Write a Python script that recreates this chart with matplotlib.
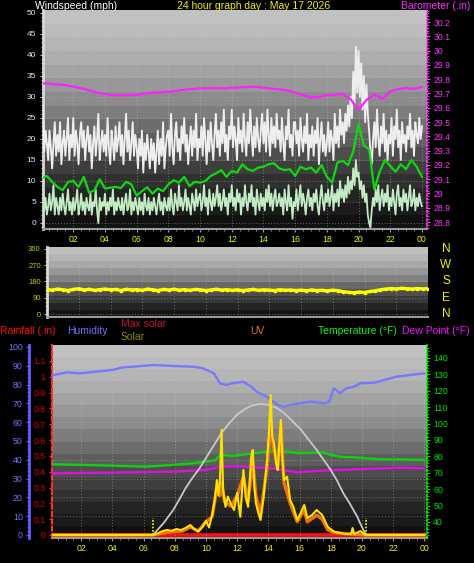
import numpy as np
import matplotlib
matplotlib.use('Agg')
import matplotlib.pyplot as plt
from matplotlib.ticker import MultipleLocator, FixedLocator, FuncFormatter

plt.rcParams['font.family'] = ['Liberation Sans', 'DejaVu Sans']

# ---------------- data ----------------
hour_ticks = [2, 4, 6, 8, 10, 12, 14, 16, 18, 20, 22, 24]
hour_labels = ['02', '04', '06', '08', '10', '12', '14', '16', '18', '20', '22', '00']

# wind gust (mph), 5-minute samples (one row per hour)
gust = [
    20, 28, 17, 22, 19, 15, 22, 18, 13, 19, 24, 16,
    21, 17, 24, 14, 19, 22, 16, 20, 25, 15, 21, 18,
    25, 16, 22, 19, 14, 21, 24, 18, 22, 15, 20, 23,
    17, 21, 13, 19, 23, 16, 20, 26, 15, 19, 22, 17,
    21, 16, 25, 18, 14, 22, 19, 15, 23, 17, 20, 24,
    16, 21, 14, 20, 26, 17, 22, 15, 19, 24, 16, 21,
    18, 13, 20, 16, 22, 12, 19, 15, 21, 17, 13, 20,
    15, 19, 12, 17, 22, 14, 20, 16, 24, 13, 18, 21,
    22, 16, 26, 18, 14, 21, 24, 17, 20, 15, 23, 19,
    25, 17, 21, 14, 19, 23, 16, 22, 18, 26, 15, 20,
    18, 23, 16, 25, 20, 14, 22, 17, 24, 19, 15, 21,
    26, 18, 22, 16, 24, 19, 27, 17, 21, 15, 23, 20,
    27, 18, 23, 20, 15, 25, 19, 22, 17, 26, 20, 16,
    24, 19, 27, 21, 16, 23, 18, 25, 20, 17, 22, 26,
    19, 24, 17, 27, 21, 16, 25, 19, 23, 18, 26, 20,
    22, 17, 25, 19, 15, 23, 20, 27, 18, 21, 16, 24,
    24, 19, 22, 16, 25, 20, 17, 23, 19, 26, 15, 21,
    18, 23, 16, 22, 19, 25, 14, 20, 24, 17, 21, 16,
    19, 24, 17, 22, 20, 15, 26, 19, 23, 18, 27, 21,
    24, 19, 26, 22, 28, 23, 30, 25, 36, 28, 42, 31,
    41, 30, 38, 27, 35, 24, 33, 26, 22, 17, 14, 20,
    24, 18, 27, 20, 16, 23, 19, 26, 17, 22, 15, 21,
    19, 25, 16, 23, 20, 27, 18, 22, 15, 24, 19, 21,
    17, 23, 20, 26, 18, 22, 16, 24, 21, 19, 25, 20, 23]

# wind speed (mph), 5-minute samples (one row per hour)
speed = [
    5, 8, 3, 6, 2, 4, 7, 3, 5, 9, 2, 6,
    4, 2, 6, 3, 7, 4, 2, 5, 8, 3, 5, 2,
    6, 3, 5, 8, 2, 4, 7, 3, 5, 2, 6, 4,
    3, 7, 2, 5, 4, 8, 3, 0, 6, 3, 5, 4,
    7, 2, 5, 3, 6, 4, 8, 2, 5, 3, 6, 4,
    3, 6, 2, 5, 7, 3, 4, 8, 2, 5, 3, 6,
    4, 2, 6, 3, 5, 2, 7, 4, 3, 6, 2, 5,
    3, 6, 4, 2, 5, 7, 3, 5, 2, 6, 4, 3,
    6, 3, 8, 4, 2, 7, 5, 3, 9, 4, 6, 3,
    5, 8, 3, 6, 4, 2, 7, 5, 3, 8, 4, 6,
    7, 3, 5, 9, 4, 6, 2, 8, 5, 3, 7, 4,
    6, 9, 4, 7, 3, 5, 8, 4, 6, 2, 7, 5,
    9, 4, 6, 3, 8, 5, 7, 2, 6, 4, 9, 5,
    3, 7, 5, 9, 4, 6, 2, 8, 5, 3, 7, 4,
    6, 3, 8, 5, 9, 4, 7, 3, 6, 8, 4, 5,
    7, 4, 6, 2, 8, 5, 3, 9, 4, 6, 1, 5,
    4, 8, 3, 6, 9, 4, 7, 5, 2, 6, 8, 4,
    6, 3, 7, 5, 8, 4, 2, 6, 9, 5, 3, 7,
    5, 8, 4, 6, 9, 3, 7, 5, 8, 4, 10, 6,
    8, 5, 9, 6, 11, 7, 10, 8, 13, 9, 15, 11,
    12, 8, 10, 6, 9, 5, 7, 2, 0, -1, 3, 6,
    4, 8, 5, 9, 3, 6, 8, 4, 7, 5, 9, 3,
    6, 4, 8, 5, 2, 7, 9, 4, 6, 3, 8, 5,
    7, 3, 6, 9, 4, 5, 8, 3, 6, 4, 7, 5, 4]

# average wind (mph), 20-minute samples
avg_wind = [
    10.6, 11.2, 9.8, 8.6, 7.8, 9.8, 10.0, 8.6, 11.0, 7.2, 7.8, 10.4,
    8.2, 8.4, 8.6, 8.3, 9.8, 9.2, 6.5, 7.6, 8.5, 7.0, 8.2, 7.6,
    9.2, 10.2, 9.6, 11.0, 8.8, 9.8, 9.6, 10.0, 11.2, 11.8, 12.6, 11.0,
    12.4, 12.0, 14.0, 12.8, 12.4, 13.2, 13.4, 14.0, 14.2, 13.0, 12.6, 12.8,
    11.2, 13.4, 12.8, 13.2, 12.0, 13.8, 11.0, 9.6, 14.4, 14.8, 13.8, 17.0,
    23.5, 18.5, 17.5, 8.0, 12.2, 15.0, 13.6, 12.2, 14.0, 12.8, 15.0, 13.4, 11.0]

# barometer (inHg), 30-minute samples
baro = [
    29.771, 29.768, 29.762, 29.758, 29.748, 29.736, 29.722, 29.706, 29.695, 29.689,
    29.688, 29.689, 29.690, 29.698, 29.705, 29.708, 29.712, 29.718, 29.726, 29.730,
    29.735, 29.736, 29.737, 29.735, 29.740, 29.742, 29.745, 29.747, 29.740, 29.734,
    29.728, 29.722, 29.705, 29.688, 29.670, 29.675, 29.688, 29.690, 29.695, 29.660,
    29.585, 29.655, 29.692, 29.662, 29.715, 29.730, 29.738, 29.732, 29.745]

# wind direction (deg), 20-minute samples
wdir = [
    135, 132, 138, 134, 130, 136, 140, 133, 137, 131, 135, 138,
    134, 136, 130, 137, 133, 135, 131, 138, 134, 130, 136, 133,
    137, 132, 135, 131, 136, 134, 130, 133, 137, 132, 135, 131,
    134, 130, 133, 136, 131, 134, 132, 130, 135, 131, 133, 130,
    132, 129, 133, 130, 131, 128, 132, 129, 124, 120, 118, 122,
    119, 125, 128, 134, 138, 141, 139, 142, 140, 138, 141, 139, 140]

# humidity (%)
hum_t = [0.2, 1.1, 1.9, 3.0, 4.0, 4.7, 5.3, 6.6, 7.9, 9.2, 9.8, 10.5, 10.9, 11.3, 11.7,
         12.4, 12.9, 13.3, 13.9, 14.6, 15.0, 15.6, 16.7, 17.6, 17.9, 18.2, 18.6, 19.0,
         19.5, 19.9, 20.8, 21.4, 22.2, 23.1, 24.0]
hum_v = [85, 86.5, 86, 86.9, 87.8, 89.2, 89.5, 90.4, 89.9, 89.5, 88.7, 86, 80.7, 79.8, 80.7,
         81.5, 78.9, 75.9, 73.6, 69.1, 68.3, 69.5, 70.9, 70, 70.9, 78, 75.4, 78,
         78.9, 80.7, 81, 82.4, 84.2, 85.1, 86]

# temperature (F)
temp_t = [0.2, 2.0, 4.06, 6.2, 7.9, 9.2, 10.0, 10.6, 10.9, 11.75, 13.1, 14.36, 15.2,
          16.07, 17.4, 18.0, 18.6, 19.5, 21.2, 22.5, 24.0]
temp_v = [75.2, 74.8, 74.3, 73.7, 74.8, 75.8, 76.8, 77.6, 80.9, 80.3, 81.9, 83.5, 82.9,
          81.9, 82.5, 80.9, 79.8, 79.4, 78.2, 78.2, 77.8]

# dew point (F)
dew_t = [0.2, 4.06, 7.9, 10.0, 10.9, 12.0, 13.1, 14.36, 15.85, 17.4, 19.5, 22.5, 24.0]
dew_v = [69.7, 70.1, 70.7, 71.7, 73.7, 73.9, 73.3, 72.7, 70.3, 71.3, 72.1, 73.1, 72.7]

# max solar (W/m2)
maxsol_t = [6.6, 7.3, 7.9, 8.3, 8.7, 9.1, 9.6, 10.0, 10.4, 11.0, 11.5, 12.0, 12.5, 13.0,
            13.5, 14.0, 14.5, 15.0, 15.5, 16.1, 16.6, 17.1, 17.5, 18.0, 18.4, 18.8, 19.2,
            19.7, 19.9, 20.25]
maxsol_v = [0, 65, 133, 190, 250, 300, 356, 410, 463, 543, 595, 640, 670, 690,
            697, 692, 678, 649, 610, 559, 505, 452, 405, 346, 290, 223, 170,
            97, 60, 0]

# solar (W/m2)
sol_t = [0.0, 6.6, 6.9, 7.2, 7.5, 7.8, 8.1, 8.4, 8.7, 9.0, 9.2, 9.5, 9.8, 10.0, 10.2,
         10.4, 10.55, 10.7, 10.8, 10.9, 11.0, 11.1, 11.25, 11.4, 11.6, 11.8, 12.0, 12.2,
         12.4, 12.55, 12.7, 12.9, 13.0, 13.1, 13.2, 13.35, 13.5, 13.7, 13.9, 14.05, 14.15,
         14.25, 14.36, 14.5, 14.6, 14.8, 14.9, 15.0, 15.2, 15.4, 15.6, 15.85, 16.07, 16.3,
         16.5, 16.8, 17.1, 17.45, 17.8, 18.2, 18.85, 19.3, 19.4, 19.5, 19.9, 20.2, 24.0]
sol_v = [0, 0, 8, 20, 27, 22, 32, 26, 38, 53, 35, 18, 45, 76, 40,
         110, 180, 292, 210, 300, 560, 240, 150, 204, 165, 133, 223, 97,
         346, 200, 150, 417, 452, 260, 170, 120, 80, 204, 383, 560, 745,
         520, 489, 380, 346, 612, 400, 292, 310, 186, 150, 80, 117, 160,
         90, 106, 133, 106, 44, 18, 5, 5, 37, 5, 21, 0, 0]

# UV index
uv_t = [0.0, 6.6, 7.5, 8.5, 9.0, 9.5, 10.0, 10.4, 10.7, 10.9, 11.0, 11.2, 11.6, 12.0,
        12.4, 12.7, 13.0, 13.2, 13.5, 13.9, 14.15, 14.36, 14.6, 14.8, 15.0, 15.4, 15.85,
        16.3, 16.5, 17.1, 17.45, 17.8, 18.2, 19.0, 20.2, 24.0]
uv_v = [0, 0, 0.2, 0.3, 0.6, 0.3, 1.0, 1.4, 3.6, 3.0, 4.0, 2.5, 2.2, 3.0,
        4.4, 2.6, 5.6, 3.0, 1.6, 5.0, 8.3, 6.6, 5.0, 8.5, 4.0, 2.4, 1.0,
        1.9, 1.0, 1.5, 1.2, 0.4, 0.2, 0.1, 0.0, 0.0]

# rainfall (in)
rain_t = [0.0, 24.0]
rain_v = [0.0, 0.0]

sun_events = [6.6, 20.25]

compass = ['N', 'W', 'S', 'E', 'N']
compass_deg = [360, 270, 180, 90, 0]

# ---------------- figure ----------------
W, H = 474, 563
fig = plt.figure(figsize=(W / 100, H / 100), dpi=100, facecolor='black')


def rect(x0, y0, x1, y1):
    return [x0 / W, 1 - y1 / H, (x1 - x0) / W, (y1 - y0) / H]


grad_f = [0.0, 0.2, 0.4, 0.55, 0.7, 0.85, 1.0]
grad_v = [196, 176, 142, 104, 66, 36, 12]


def background(ax, n=16):
    f = (np.arange(n) + 0.5) / n
    g = np.interp(f, grad_f, grad_v) / 255.0
    img = np.repeat(g[:, None], 2, axis=1)
    ax.imshow(img, cmap='gray', vmin=0, vmax=1, extent=[0, 1, 0, 1],
              transform=ax.transAxes, aspect='auto', zorder=0,
              interpolation='nearest')


def style_common(ax):
    ax.set_facecolor('black')
    for s in ['top', 'right']:
        ax.spines[s].set_visible(False)
    ax.spines['left'].set_color('#d8d8d8')
    ax.spines['left'].set_linewidth(2)
    ax.spines['bottom'].set_color('#9a9a9a')
    ax.spines['bottom'].set_linewidth(1.5)


grid_kw = dict(color='#c8c8b0', lw=0.7, ls=(0, (1, 2)), alpha=0.45, zorder=1)

# ---- top panel: wind + barometer ----
ax_w = fig.add_axes(rect(43, 10, 427, 229))
style_common(ax_w)
background(ax_w)
t5 = np.arange(len(gust)) / 12
t20 = np.arange(len(avg_wind)) / 3
t30 = np.arange(len(baro)) / 2
ax_w.plot(t5, gust, color='#eeeeee', lw=1.35, zorder=3)
ax_w.plot(t5, speed, color='#c4ecc4', lw=1.3, zorder=4)
ax_w.plot(t20, avg_wind, color='#10d810', lw=1.6, zorder=5)
ax_w.set_xlim(0.09, 24.32)
ax_w.set_ylim(-1.43, 50.71)
for y in range(0, 51, 5):
    ax_w.axhline(y, **grid_kw)
for x in hour_ticks:
    ax_w.axvline(x, **grid_kw)
ax_w.yaxis.set_major_locator(MultipleLocator(5))
ax_w.yaxis.set_minor_locator(MultipleLocator(1))
ax_w.tick_params(axis='y', which='both', colors='#c8c8c8', labelcolor='#d8e4ff',
                 labelsize=6, length=2.5, pad=2.5)
ax_w.tick_params(axis='y', which='minor', length=1.5)
ax_w.xaxis.set_major_locator(FixedLocator(hour_ticks))
ax_w.set_xticklabels(hour_labels)
ax_w.xaxis.set_minor_locator(MultipleLocator(0.5))
ax_w.tick_params(axis='x', which='both', colors='#9a9a9a', labelcolor='#f0f000',
                 labelsize=6.3, length=2.5, pad=2)
ax_w.tick_params(axis='x', which='minor', length=1.5)

ax_p = ax_w.twinx()
ax_p.plot(t30, baro, color='#ff20ff', lw=1.6, zorder=6)
ax_p.set_ylim(28.751, 30.284)
for s in ['top', 'left', 'bottom']:
    ax_p.spines[s].set_visible(False)
ax_p.spines['right'].set_color('#ff40ff')
ax_p.spines['right'].set_linestyle((0, (1, 1.5)))
ax_p.spines['right'].set_linewidth(1.2)
ax_p.yaxis.set_major_locator(FixedLocator(np.round(np.arange(28.8, 30.25, 0.1), 1)))
ax_p.yaxis.set_minor_locator(MultipleLocator(0.02))
ax_p.yaxis.set_major_formatter(FuncFormatter(lambda v, p: f'{round(v, 1):g}'))
ax_p.tick_params(axis='y', which='both', colors='#ff40ff', labelcolor='#ff30ff',
                 labelsize=6.3, length=2.5, pad=2)
ax_p.tick_params(axis='y', which='minor', length=1.5)

# ---- middle panel: wind direction ----
ax_d = fig.add_axes(rect(47, 247, 428, 317))
style_common(ax_d)
background(ax_d, n=10)
tdir = np.arange(len(wdir)) / 3
ax_d.plot(tdir, wdir, color='#ffff00', lw=2.4, marker='s', ms=1.6, zorder=4)
ax_d.set_xlim(0, 24)
ax_d.set_ylim(-16.6, 371)
for y in [0, 90, 180, 270, 360]:
    ax_d.axhline(y, **grid_kw)
for x in hour_ticks:
    ax_d.axvline(x, **grid_kw)
ax_d.yaxis.set_major_locator(FixedLocator([0, 90, 180, 270, 360]))
ax_d.yaxis.set_minor_locator(MultipleLocator(22.5))
ax_d.tick_params(axis='y', which='both', colors='#c8c800', labelcolor='#c8c800',
                 labelsize=5.5, length=2.5, pad=2)
ax_d.tick_params(axis='y', which='minor', length=1.5)
ax_d.set_xticks([])
for lab, deg in zip(compass, compass_deg):
    ypix = 314 - deg * (65 / 360)
    fig.text(446 / W, 1 - ypix / H, lab, color='#f0f000', fontsize=8.5,
             ha='center', va='center')

# ---- bottom panel ----
ax_r = fig.add_axes(rect(52, 345, 427, 538))
style_common(ax_r)
background(ax_r)
ax_r.set_xlim(0.13, 24.17)
ax_r.set_ylim(-0.019, 1.201)
ax_r.spines['left'].set_color('#ff3030')
ax_r.spines['left'].set_linestyle((0, (2, 1.5)))
ax_r.spines['left'].set_linewidth(1.5)
ax_r.yaxis.set_major_locator(FixedLocator(np.round(np.arange(0, 1.15, 0.1), 1)))
ax_r.yaxis.set_major_formatter(FuncFormatter(lambda v, p: f'{round(v, 1):g}'))
ax_r.tick_params(axis='y', colors='#ff3030', labelcolor='#e00000', labelsize=6.3,
                 length=2.5, pad=2)
ax_r.xaxis.set_major_locator(FixedLocator(hour_ticks))
ax_r.set_xticklabels(hour_labels)
ax_r.xaxis.set_minor_locator(MultipleLocator(0.5))
ax_r.tick_params(axis='x', which='both', colors='#9a9a9a', labelcolor='#f0f000',
                 labelsize=6.3, length=2.5, pad=2)
ax_r.tick_params(axis='x', which='minor', length=1.5)
ax_r.plot(rain_t, rain_v, color='#ff1010', lw=2.6, zorder=3)

# humidity axis (outer left)
ax_h = ax_r.twinx()
ax_h.set_ylim(-1.6, 101.06)
for s in ['top', 'right', 'bottom']:
    ax_h.spines[s].set_visible(False)
ax_h.yaxis.set_ticks_position('left')
ax_h.spines['left'].set_visible(True)
ax_h.spines['left'].set_position(('outward', 16.5))
ax_h.spines['left'].set_color('#6060ff')
ax_h.spines['left'].set_linewidth(2)
ax_h.yaxis.set_major_locator(MultipleLocator(10))
ax_h.yaxis.set_minor_locator(MultipleLocator(2))
ax_h.tick_params(axis='y', which='both', colors='#6060ff', labelcolor='#7474ff',
                 labelsize=6.3, length=2.5, pad=2)
ax_h.tick_params(axis='y', which='minor', length=1.5)
for y in range(10, 100, 10):
    ax_h.axhline(y, **grid_kw)
for x in hour_ticks:
    ax_h.axvline(x, **grid_kw)
ax_h.plot(hum_t, hum_v, color='#7878ff', lw=1.7, zorder=4)

# temperature axis (right)
ax_t = ax_r.twinx()
ax_t.set_ylim(30.24, 147.9)
for s in ['top', 'left', 'bottom']:
    ax_t.spines[s].set_visible(False)
ax_t.spines['right'].set_color('#00ff00')
ax_t.spines['right'].set_linestyle((0, (1, 1.5)))
ax_t.spines['right'].set_linewidth(1.2)
ax_t.yaxis.set_major_locator(FixedLocator(list(range(40, 141, 10))))
ax_t.yaxis.set_minor_locator(MultipleLocator(2))
ax_t.tick_params(axis='y', which='both', colors='#00e000', labelcolor='#00e000',
                 labelsize=6.3, length=2.5, pad=2)
ax_t.tick_params(axis='y', which='minor', length=1.5)
ax_t.plot(temp_t, temp_v, color='#10d010', lw=1.7, zorder=4)
ax_t.plot(dew_t, dew_v, color='#e010e0', lw=1.7, zorder=4)

# UV (hidden axis)
ax_u = ax_r.twinx()
ax_u.axis('off')
ax_u.set_ylim(-16 / 70, 1010.6 / 70)
ax_u.plot(uv_t, uv_v, color='#ff7a10', lw=2.4, zorder=4, alpha=0.9)

# solar (hidden axis)
ax_s = ax_r.twinx()
ax_s.axis('off')
ax_s.set_ylim(-16, 1010.6)
ax_s.plot(maxsol_t, maxsol_v, color='#c8c8c8', lw=1.3, zorder=3)
ax_s.plot(sol_t, sol_v, color='#ffe000', lw=1.5, zorder=4)
ax_s.vlines(sun_events, 0, 90, colors='#ffff00', linestyles=(0, (1, 1)), lw=1.2, zorder=4)

# ---------------- texts ----------------
ty = 1 - 6 / H
fig.text(35 / W, ty, 'Windspeed (mph)', color='white', fontsize=7.5, ha='left', va='center')
fig.text(254 / W, ty, '24 hour graph day : May 17 2026', color='#f0f000', fontsize=7.5,
         ha='center', va='center')
fig.text(470 / W, ty, 'Barometer (.in)', color='#ff30ff', fontsize=7.5, ha='right', va='center')

ly = 1 - 330.5 / H
fig.text(0 / W, ly, 'Rainfall (.in)', color='#ff1010', fontsize=7.5, ha='left', va='center')
fig.text(67 / W, ly, 'Humidity', color='#7070ff', fontsize=7.5, ha='left', va='center')
fig.text(121 / W, 1 - 324 / H, 'Max solar', color='#c8103c', fontsize=7.5, ha='left', va='center')
fig.text(121 / W, 1 - 336.5 / H, 'Solar', color='#8c8c00', fontsize=7.5, ha='left', va='center')
fig.text(257 / W, ly, 'UV', color='#e87018', fontsize=7.5, ha='center', va='center')
fig.text(318 / W, ly, 'Temperature (°F)', color='#10f010', fontsize=7.5, ha='left', va='center')
fig.text(470 / W, ly, 'Dew Point (°F)', color='#ff10ff', fontsize=7.5, ha='right', va='center')

fig.savefig('out.png', dpi=100, facecolor='black')
